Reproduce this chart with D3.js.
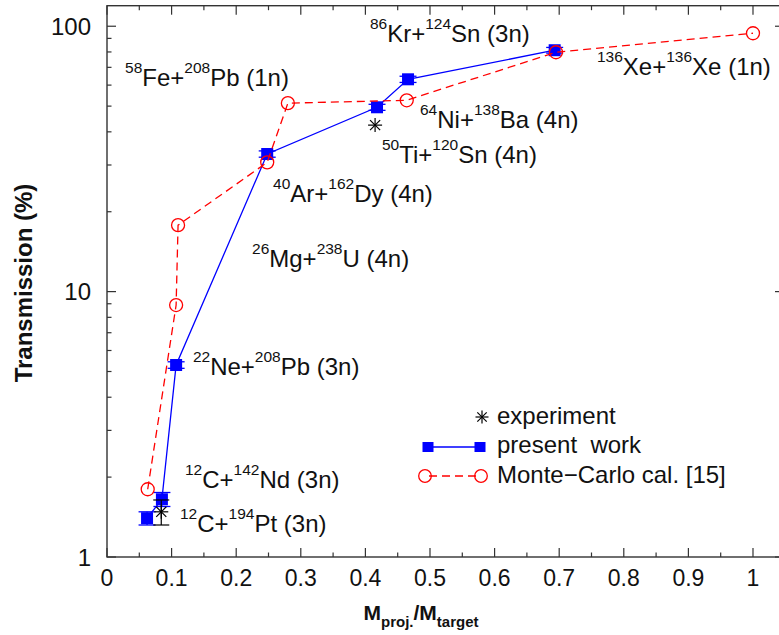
<!DOCTYPE html>
<html><head><meta charset="utf-8">
<script src="https://cdn.jsdelivr.net/npm/d3@7"></script>
<style>
body{margin:0;background:#fff}
svg{display:block}
text{font-family:"Liberation Sans",Arial,Helvetica,sans-serif;fill:#111}
</style>
</head><body><svg id="c" width="779" height="635"></svg>
<script>
// ---- data ----
const workX   = [0.062, 0.085, 0.107, 0.248, 0.418, 0.466, 0.693];
const workY   = [1.40, 1.65, 5.29, 33.0, 49.5, 63.1, 81.2];
const workErr = [0.08, 0.10, 0.15, 0.9, 1.3, 1.7, 2.0];

const mcX = [0.063, 0.107, 0.110, 0.248, 0.280, 0.464, 0.695, 1.0];
const mcY = [1.80, 8.9, 17.8, 30.7, 51.3, 52.6, 79.8, 94.1];

const expX   = [0.084, 0.415];
const expY   = [1.48, 42.4];
const expErr = [0.16, 0];

const xTicks      = [0, 0.1, 0.2, 0.3, 0.4, 0.5, 0.6, 0.7, 0.8, 0.9, 1];
const xTickLabels = ["0","0.1","0.2","0.3","0.4","0.5","0.6","0.7","0.8","0.9","1"];
const yTicks      = [1, 10, 100];
const yTickLabels = ["1","10","100"];

const reactions = [
  ["58","Fe","208","Pb","(1n)"],
  ["86","Kr","124","Sn","(3n)"],
  ["136","Xe","136","Xe","(1n)"],
  ["64","Ni","138","Ba","(4n)"],
  ["50","Ti","120","Sn","(4n)"],
  ["40","Ar","162","Dy","(4n)"],
  ["26","Mg","238","U","(4n)"],
  ["22","Ne","208","Pb","(3n)"],
  ["12","C","142","Nd","(3n)"],
  ["12","C","194","Pt","(3n)"]
];
const reactionX = [0.028, 0.407, 0.7585, 0.4845, 0.4257, 0.257, 0.2245, 0.133, 0.1207, 0.113];
const reactionY = [59.4, 87.0, 65.4, 41.3, 30.5, 21.7, 12.37, 4.85, 1.82, 1.242];

const legendLabels = ["experiment", "present  work", "Monte\u2212Carlo cal. [15]"];

// ---- layout ----
const svg = d3.select("#c");
const L = 107, R = 784, T = 5.7, B = 557;
const x = d3.scaleLinear().domain([0, 1.048]).range([L, R]);
const y = d3.scaleLog().domain([1, 119.5]).range([B, T]);
const axisCol = "#333";

// frame
svg.append("rect").attr("x", L).attr("y", T).attr("width", R - L).attr("height", B - T)
  .attr("fill", "none").attr("stroke", axisCol).attr("stroke-width", 1.4);

// x ticks (bottom + top, inward)
const xMinor = d3.range(0.05, 1.05, 0.1);
function xt(vals, len) {
  vals.forEach(v => {
    svg.append("line").attr("x1", x(v)).attr("x2", x(v)).attr("y1", B).attr("y2", B - len)
      .attr("stroke", axisCol).attr("stroke-width", 1.2);
    svg.append("line").attr("x1", x(v)).attr("x2", x(v)).attr("y1", T).attr("y2", T + len)
      .attr("stroke", axisCol).attr("stroke-width", 1.2);
  });
}
xt(xTicks, 9); xt(xMinor, 4.5);
xTicks.forEach((v, i) => {
  svg.append("text").attr("x", x(v)).attr("y", 586).attr("text-anchor", "middle")
    .attr("font-size", 23).text(xTickLabels[i]);
});

// y ticks (left + right, inward)
const yMinor = [];
[1, 10].forEach(d => { for (let k = 2; k <= 9; k++) yMinor.push(k * d); });
function yt(vals, len) {
  vals.forEach(v => {
    svg.append("line").attr("x1", L).attr("x2", L + len).attr("y1", y(v)).attr("y2", y(v))
      .attr("stroke", axisCol).attr("stroke-width", 1.2);
    svg.append("line").attr("x1", R).attr("x2", R - len).attr("y1", y(v)).attr("y2", y(v))
      .attr("stroke", axisCol).attr("stroke-width", 1.2);
  });
}
yt(yTicks, 9); yt(yMinor, 4.5);
yTicks.forEach((v, i) => {
  svg.append("text").attr("x", 91).attr("y", y(v)).attr("dy", "0.36em").attr("text-anchor", "end")
    .attr("font-size", 24).text(yTickLabels[i]);
});

// axis titles
svg.append("text").attr("transform", "translate(32,283) rotate(-90)")
  .attr("text-anchor", "middle").attr("font-size", 24).attr("font-weight", "bold").text("Transmission (%)");

const xtt = svg.append("text").attr("x", 421).attr("y", 620).attr("text-anchor", "middle")
  .attr("font-weight", "bold").attr("font-size", 21);
xtt.append("tspan").text("M");
xtt.append("tspan").attr("font-size", 15).attr("dy", 7).text("proj.");
xtt.append("tspan").attr("dy", -7).text("/M");
xtt.append("tspan").attr("font-size", 15).attr("dy", 7).text("target");

// ---- present work (blue) ----
const blue = "#0000ff", red = "#ff0000";
const wp = workX.map((v, i) => [v, workY[i], workErr[i]]);
svg.append("path").datum(wp).attr("fill", "none").attr("stroke", blue).attr("stroke-width", 1.3)
  .attr("d", d3.line().x(d => x(d[0])).y(d => y(d[1])));
wp.forEach(d => {
  const cx = x(d[0]), y1 = y(d[1] - d[2]), y2 = y(d[1] + d[2]);
  svg.append("line").attr("x1", cx).attr("x2", cx).attr("y1", y1).attr("y2", y2).attr("stroke", blue).attr("stroke-width", 1.2);
  [y1, y2].forEach(yy => svg.append("line").attr("x1", cx - 8.5).attr("x2", cx + 8.5).attr("y1", yy).attr("y2", yy)
    .attr("stroke", blue).attr("stroke-width", 1.3));
});
svg.selectAll("rect.w").data(wp).enter().append("rect").attr("class", "w")
  .attr("x", d => x(d[0]) - 6).attr("y", d => y(d[1]) - 6).attr("width", 12).attr("height", 12).attr("fill", blue);

// ---- Monte-Carlo (red) ----
const mp = mcX.map((v, i) => [v, mcY[i]]);
svg.append("path").datum(mp).attr("fill", "none").attr("stroke", red).attr("stroke-width", 1.3)
  .attr("stroke-dasharray", "8,5").attr("d", d3.line().x(d => x(d[0])).y(d => y(d[1])));
svg.selectAll("circle.m").data(mp).enter().append("circle").attr("class", "m")
  .attr("cx", d => x(d[0])).attr("cy", d => y(d[1])).attr("r", 6.5)
  .attr("fill", "none").attr("stroke", red).attr("stroke-width", 1.3);

// ---- experiment (stars) ----
function star(g, cx, cy, r) {
  const a = r * 0.72;
  [[0, -r, 0, r], [-r, 0, r, 0], [-a, -a, a, a], [-a, a, a, -a]].forEach(s =>
    g.append("line").attr("x1", cx + s[0]).attr("y1", cy + s[1]).attr("x2", cx + s[2]).attr("y2", cy + s[3])
      .attr("stroke", "#000").attr("stroke-width", 1.2));
}
expX.forEach((v, i) => {
  const cx = x(v), cy = y(expY[i]);
  if (expErr[i] > 0) {
    const y1 = y(expY[i] - expErr[i]), y2 = y(expY[i] + expErr[i]);
    svg.append("line").attr("x1", cx).attr("x2", cx).attr("y1", y1).attr("y2", y2).attr("stroke", "#000").attr("stroke-width", 1.2);
    [y1, y2].forEach(yy => svg.append("line").attr("x1", cx - 8).attr("x2", cx + 8).attr("y1", yy).attr("y2", yy)
      .attr("stroke", "#000").attr("stroke-width", 1.2));
  }
  star(svg, cx, cy, 7);
});

// ---- reaction labels ----
reactions.forEach((r, i) => {
  const t = svg.append("text").attr("x", x(reactionX[i])).attr("y", y(reactionY[i])).attr("font-size", 24);
  t.append("tspan").attr("font-size", 15.5).attr("dy", -13).text(r[0]);
  t.append("tspan").attr("dy", 13).text(r[1] + "+");
  t.append("tspan").attr("font-size", 15.5).attr("dy", -13).text(r[2]);
  t.append("tspan").attr("dy", 13).text(r[3] + " " + r[4]);
});

// ---- legend ----
const lg = svg.append("g");
star(lg, 482, 417, 6.5);
lg.append("text").attr("x", 497).attr("y", 424).attr("font-size", 24).text(legendLabels[0]);
lg.append("line").attr("x1", 428).attr("x2", 480).attr("y1", 447).attr("y2", 447).attr("stroke", blue).attr("stroke-width", 1.3);
[428, 480].forEach(cx => lg.append("rect").attr("x", cx - 5.5).attr("y", 447 - 5).attr("width", 11).attr("height", 10).attr("fill", blue));
lg.append("text").attr("x", 497).attr("y", 453).attr("font-size", 24).attr("xml:space", "preserve").style("white-space", "pre").text(legendLabels[1]);
lg.append("line").attr("x1", 425).attr("x2", 481).attr("y1", 476).attr("y2", 476).attr("stroke", red).attr("stroke-width", 1.3).attr("stroke-dasharray", "8,5").attr("stroke-dashoffset", -4);
[425, 481].forEach(cx => lg.append("circle").attr("cx", cx).attr("cy", 476).attr("r", 6.3).attr("fill", "none").attr("stroke", red).attr("stroke-width", 1.3));
lg.append("text").attr("x", 497).attr("y", 483).attr("font-size", 24).text(legendLabels[2]);
</script>
</body></html>
